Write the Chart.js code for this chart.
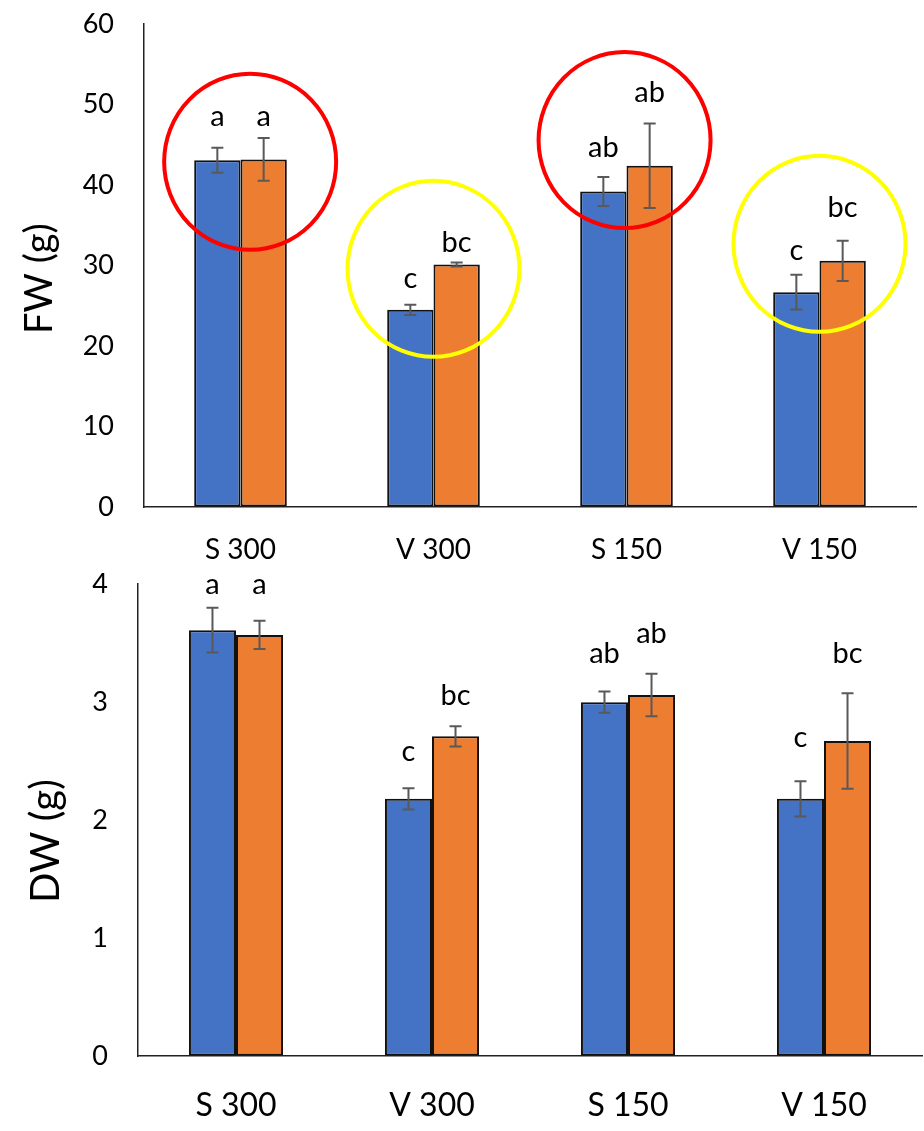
<!DOCTYPE html>
<html>
<head>
<meta charset="utf-8">
<script src="https://cdn.jsdelivr.net/npm/chart.js@4.4.1/dist/chart.umd.min.js"></script>
<style>
    html, body { margin: 0; padding: 0; background: #fff; overflow: hidden; }
    #wrap { position: relative; width: 924px; height: 1131px; overflow: hidden; }
    .box { position: absolute; left: 0; width: 924px; }
</style>
</head>
<body>
<div id="wrap">
    <div class="box" style="top:-22px;height:582px"><canvas id="fwChart" width="924" height="582"></canvas></div>
    <div class="box" style="top:538px;height:593px"><canvas id="dwChart" width="924" height="593"></canvas></div>
</div>
<script>
const categories = ['S 300', 'V 300', 'S 150', 'V 150'];

// Свежая масса (FW)
const fwBlue = [43.1, 24.5, 39.2, 26.7];
const fwOrange = [43.2, 30.15, 42.4, 30.6];
const fwBlueErr = [1.55, 0.65, 1.8, 2.15];
const fwOrangeErr = [2.65, 0.25, 5.25, 2.5];
const fwBlueLetters = ['a', 'c', 'ab', 'c'];
const fwOrangeLetters = ['a', 'bc', 'ab', 'bc'];
const fwBlueLetterAt = [47.4, 27.25, 43.5, 30.65];
const fwOrangeLetterAt = [47.4, 31.7, 50.3, 36.1];
const fwTicks = [0, 60, 10];

// Круги-выделения (центр: категория, значение)
const fwCircleCat = [0.05, 1.0, 1.99, 3.0];
const fwCircleVal = [42.9, 29.6, 45.6, 32.7];
const fwCircleColor = ['#ff0000', '#ffff00', '#ff0000', '#ffff00'];

// Сухая масса (DW)
const dwBlue = [3.61, 2.18, 3.00, 2.18];
const dwOrange = [3.57, 2.71, 3.06, 2.67];
const dwBlueErr = [0.19, 0.09, 0.09, 0.15];
const dwOrangeErr = [0.12, 0.085, 0.18, 0.405];
const dwBlueLetters = ['a', 'c', 'ab', 'c'];
const dwOrangeLetters = ['a', 'bc', 'ab', 'bc'];
const dwBlueLetterAt = [3.92, 2.50, 3.33, 2.62];
const dwOrangeLetterAt = [3.92, 2.98, 3.50, 3.33];
const dwTicks = [0, 4, 1];

const FONT = 'Lato';
const BLUE = '#4472c4';
const ORANGE = '#ed7d31';

// Плагин: планки ошибок, буквы, круги и подпись оси
const extrasPlugin = {
    id: 'extras',
    afterDatasetsDraw(chart) {
        const o = chart.options.plugins.extras;
        const ctx = chart.ctx;
        const x = chart.scales.x, y = chart.scales.y;
        ctx.save();

        // планки ошибок
        ctx.strokeStyle = '#595959';
        ctx.lineWidth = 2;
        [[0, o.blueErr], [1, o.orangeErr]].forEach(([di, errs]) => {
            const meta = chart.getDatasetMeta(di);
            const vals = chart.data.datasets[di].data;
            meta.data.forEach((bar, i) => {
                const top = y.getPixelForValue(vals[i] + errs[i]);
                const bot = y.getPixelForValue(vals[i] - errs[i]);
                ctx.beginPath();
                ctx.moveTo(bar.x, top); ctx.lineTo(bar.x, bot);
                ctx.moveTo(bar.x - 6, top); ctx.lineTo(bar.x + 6, top);
                ctx.moveTo(bar.x - 6, bot); ctx.lineTo(bar.x + 6, bot);
                ctx.stroke();
            });
        });

        // буквы значимости
        ctx.fillStyle = '#000';
        ctx.font = `29px ${FONT}`;
        ctx.textAlign = 'center';
        ctx.textBaseline = 'alphabetic';
        [[0, o.blueLetters, o.blueLetterAt], [1, o.orangeLetters, o.orangeLetterAt]].forEach(([di, letters, at]) => {
            chart.getDatasetMeta(di).data.forEach((bar, i) => {
                ctx.fillText(letters[i], bar.x, y.getPixelForValue(at[i]));
            });
        });

        // круги
        if (o.circleCat) {
            ctx.lineWidth = 4;
            o.circleCat.forEach((c, i) => {
                ctx.strokeStyle = o.circleColor[i];
                ctx.beginPath();
                ctx.ellipse(x.getPixelForValue(c), y.getPixelForValue(o.circleVal[i]), 86, 88, 0, 0, Math.PI * 2);
                ctx.stroke();
            });
        }

        // подпись оси Y
        const area = chart.chartArea;
        ctx.font = `${o.titleSize}px ${FONT}`;
        ctx.textBaseline = 'middle';
        ctx.translate(o.titleX, (area.top + area.bottom) / 2 + o.titleShift);
        ctx.rotate(-Math.PI / 2);
        ctx.fillText(o.title, 0, 0);
        ctx.restore();
    }
};

function makeChart(id, cfg) {
    return new Chart(document.getElementById(id), {
        type: 'bar',
        data: {
            labels: categories,
            datasets: [
                { data: cfg.blue, backgroundColor: BLUE, borderColor: '#111', borderWidth: 2, borderSkipped: false },
                { data: cfg.orange, backgroundColor: ORANGE, borderColor: '#111', borderWidth: 2, borderSkipped: false }
            ]
        },
        options: {
            responsive: false,
            animation: false,
            events: [],
            layout: { padding: { top: 22, right: cfg.right, left: 0, bottom: 0 } },
            datasets: { bar: { categoryPercentage: 0.48, barPercentage: 1 } },
            plugins: {
                legend: { display: false },
                tooltip: { enabled: false },
                extras: cfg.extras
            },
            scales: {
                x: {
                    grid: { display: true, drawOnChartArea: false, drawTicks: false },
                    border: { display: true, color: '#222', width: 1.5 },
                    ticks: { color: '#000', font: { family: FONT, size: cfg.xFont }, padding: cfg.xPad },
                    afterFit(s) { s.height = cfg.xHeight; }
                },
                y: {
                    min: cfg.ticks[0], max: cfg.ticks[1],
                    grid: { display: true, drawOnChartArea: false, drawTicks: false },
                    border: { display: true, color: '#222', width: 1.5 },
                    ticks: { stepSize: cfg.ticks[2], color: '#000', font: { family: FONT, size: cfg.yFont }, padding: 30 },
                    afterFit(s) { s.width = cfg.left; }
                }
            }
        },
        plugins: [extrasPlugin]
    });
}

makeChart('fwChart', {
    blue: fwBlue, orange: fwOrange, ticks: fwTicks,
    left: 144, right: 8, xHeight: 53, xFont: 28, yFont: 27, xPad: 26,
    extras: {
        blueErr: fwBlueErr, orangeErr: fwOrangeErr,
        blueLetters: fwBlueLetters, orangeLetters: fwOrangeLetters,
        blueLetterAt: fwBlueLetterAt, orangeLetterAt: fwOrangeLetterAt,
        circleCat: fwCircleCat, circleVal: fwCircleVal, circleColor: fwCircleColor,
        title: 'FW (g)', titleSize: 38, titleX: 40, titleShift: 13
    }
});

makeChart('dwChart', {
    blue: dwBlue, orange: dwOrange, ticks: dwTicks,
    left: 138, right: 2, xHeight: 75, xFont: 32, yFont: 27, xPad: 30,
    extras: {
        blueErr: dwBlueErr, orangeErr: dwOrangeErr,
        blueLetters: dwBlueLetters, orangeLetters: dwOrangeLetters,
        blueLetterAt: dwBlueLetterAt, orangeLetterAt: dwOrangeLetterAt,
        title: 'DW (g)', titleSize: 40, titleX: 46, titleShift: 21
    }
});
</script>
</body>
</html>
